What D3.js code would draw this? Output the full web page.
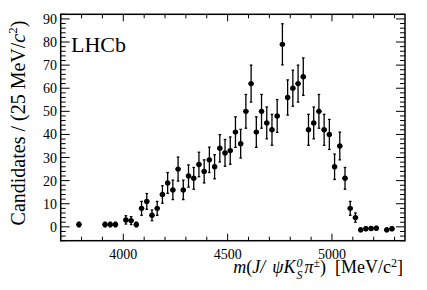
<!DOCTYPE html>
<html>
<head>
<meta charset="utf-8">
<script src="https://cdn.jsdelivr.net/npm/d3@7"></script>
<style>
  body { margin: 0; background: #fff; }
  svg { display: block; }
  text { font-family: "Liberation Serif", "DejaVu Serif", serif; fill: #000; white-space: pre; }
</style>
</head>
<body>
<svg id="chart" width="427" height="290"></svg>
<script>
// bin centres (25 MeV bins)
const binCenters = [3787.5, 3912.5, 3937.5, 3962.5, 4012.5, 4037.5, 4062.5, 4087.5, 4112.5, 4137.5,
  4162.5, 4187.5, 4212.5, 4237.5, 4262.5, 4287.5, 4312.5, 4337.5, 4362.5, 4387.5,
  4412.5, 4437.5, 4462.5, 4487.5, 4512.5, 4537.5, 4562.5, 4587.5, 4612.5, 4637.5,
  4662.5, 4687.5, 4712.5, 4737.5, 4762.5, 4787.5, 4812.5, 4837.5, 4862.5, 4887.5,
  4912.5, 4937.5, 4962.5, 4987.5, 5012.5, 5037.5, 5062.5, 5087.5, 5112.5, 5137.5,
  5162.5, 5187.5, 5212.5, 5262.5, 5287.5];
const counts = [1, 1, 1, 1, 3, 2.7, 1, 8, 11, 5,
  8, 14, 19, 16, 25, 16, 22, 21, 27, 24,
  29, 26, 34, 32, 33, 41, 36, 50, 62, 41,
  50, 45, 42, 48, 79, 56, 60, 62, 65, 42,
  45, 50, 42, 40, 26, 35, 21, 8, 4, -1.3,
  -0.8, -0.7, -0.6, -1.3, -0.8];
const errors = [1, 1, 1, 1, 1.8, 1.7, 1, 3, 3.4, 2.3,
  3, 3.8, 4.5, 4.2, 5.2, 4.2, 4.8, 4.7, 5.3, 5,
  5.5, 5.2, 5.9, 5.8, 5.9, 6.6, 6.2, 7.3, 8, 6.6,
  7.3, 6.9, 6.7, 7.1, 8.9, 7.6, 7.8, 8, 8.1, 6.7,
  6.9, 7.3, 6.7, 6.5, 5.5, 6, 4.7, 3, 2, 0.8,
  0.8, 0.8, 0.8, 0.8, 0.8];
const binWidth = 25;
const xMajor = [4000, 4500, 5000];
const yMajor = [0, 10, 20, 30, 40, 50, 60, 70, 80, 90];

const svg = d3.select("#chart");
const L = 60.7, R = 405, T = 14.3, B = 240.7;

const x = d3.scaleLinear().domain([3700, 5350]).range([L, R]);
const y = d3.scaleLinear().domain([-6, 92]).range([B, T]);

const xMinor = d3.range(3700, 5351, 100).filter(v => !xMajor.includes(v));
const yMinor = d3.range(-6, 93, 2).filter(v => !yMajor.includes(v));

// ticks, inward on all four sides
const tk = svg.append("g").attr("stroke", "#000").attr("stroke-width", 1);
xMajor.forEach(v => {
  tk.append("line").attr("x1", x(v)).attr("x2", x(v)).attr("y1", B).attr("y2", B - 7);
  tk.append("line").attr("x1", x(v)).attr("x2", x(v)).attr("y1", T).attr("y2", T + 7);
});
xMinor.forEach(v => {
  tk.append("line").attr("x1", x(v)).attr("x2", x(v)).attr("y1", B).attr("y2", B - 4);
  tk.append("line").attr("x1", x(v)).attr("x2", x(v)).attr("y1", T).attr("y2", T + 4);
});
yMajor.forEach(v => {
  tk.append("line").attr("y1", y(v)).attr("y2", y(v)).attr("x1", L).attr("x2", L + 9);
  tk.append("line").attr("y1", y(v)).attr("y2", y(v)).attr("x1", R).attr("x2", R - 9);
});
yMinor.forEach(v => {
  tk.append("line").attr("y1", y(v)).attr("y2", y(v)).attr("x1", L).attr("x2", L + 5);
  tk.append("line").attr("y1", y(v)).attr("y2", y(v)).attr("x1", R).attr("x2", R - 5);
});

// frame
svg.append("rect")
  .attr("x", L).attr("y", T).attr("width", R - L).attr("height", B - T)
  .attr("fill", "none").attr("stroke", "#000").attr("stroke-width", 1.5);

// tick labels
svg.append("g").selectAll("text").data(xMajor).join("text")
  .attr("x", d => x(d)).attr("y", 258.5)
  .attr("text-anchor", "middle").attr("font-size", 14)
  .text(d => d);
svg.append("g").selectAll("text").data(yMajor).join("text")
  .attr("x", 57).attr("y", d => y(d) + 5)
  .attr("text-anchor", "end").attr("font-size", 14)
  .text(d => d);

// data points with error bars
const pts = svg.append("g");
binCenters.forEach((c, i) => {
  const v = counts[i], e = errors[i];
  const g = pts.append("g").attr("stroke", "#000").attr("stroke-width", 1.3);
  g.append("line").attr("x1", x(c)).attr("x2", x(c)).attr("y1", y(v - e)).attr("y2", y(v + e));
  g.append("line").attr("x1", x(c) - 1.3).attr("x2", x(c) + 1.3).attr("y1", y(v - e)).attr("y2", y(v - e));
  g.append("line").attr("x1", x(c) - 1.3).attr("x2", x(c) + 1.3).attr("y1", y(v + e)).attr("y2", y(v + e));
  g.append("line").attr("x1", x(c - binWidth / 2)).attr("x2", x(c + binWidth / 2)).attr("y1", y(v)).attr("y2", y(v));
  g.append("circle").attr("cx", x(c)).attr("cy", y(v)).attr("r", 2.7).attr("fill", "#000").attr("stroke", "none");
});

// LHCb label
svg.append("text").attr("x", 71).attr("y", 52).attr("font-size", 22).text("LHCb");

// y axis title
const yt = svg.append("text")
  .attr("transform", "translate(25,123) rotate(-90)")
  .attr("text-anchor", "middle").attr("font-size", 20);
yt.append("tspan").text("Candidates / (25 MeV/");
yt.append("tspan").attr("font-style", "italic").text("c");
yt.append("tspan").attr("font-size", 13).attr("dy", -8).text("2");
yt.append("tspan").attr("dy", 8).text(")");

// x axis title
const xt = svg.append("text")
  .attr("x", 403).attr("y", 273).attr("text-anchor", "end").attr("font-size", 18);
xt.append("tspan").attr("font-style", "italic").text("m");
xt.append("tspan").text("(");
xt.append("tspan").attr("font-style", "italic").text("J/");
xt.append("tspan").attr("font-style", "italic").attr("dx", 7).text("ψK");
xt.append("tspan").attr("font-style", "italic").attr("font-size", 12).attr("dx", 1).attr("dy", -6).text("0");
xt.append("tspan").attr("font-style", "italic").attr("font-size", 12).attr("dx", -6).attr("dy", 12).text("S");
xt.append("tspan").attr("font-style", "italic").attr("dx", 2).attr("dy", -6).text("π");
xt.append("tspan").attr("font-size", 12).attr("dy", -6).text("±");
xt.append("tspan").attr("dy", 6).text(")\u00a0\u00a0[MeV/c");
xt.append("tspan").attr("font-size", 12).attr("dy", -6).text("2");
xt.append("tspan").attr("dy", 6).text("]");
</script>
</body>
</html>
